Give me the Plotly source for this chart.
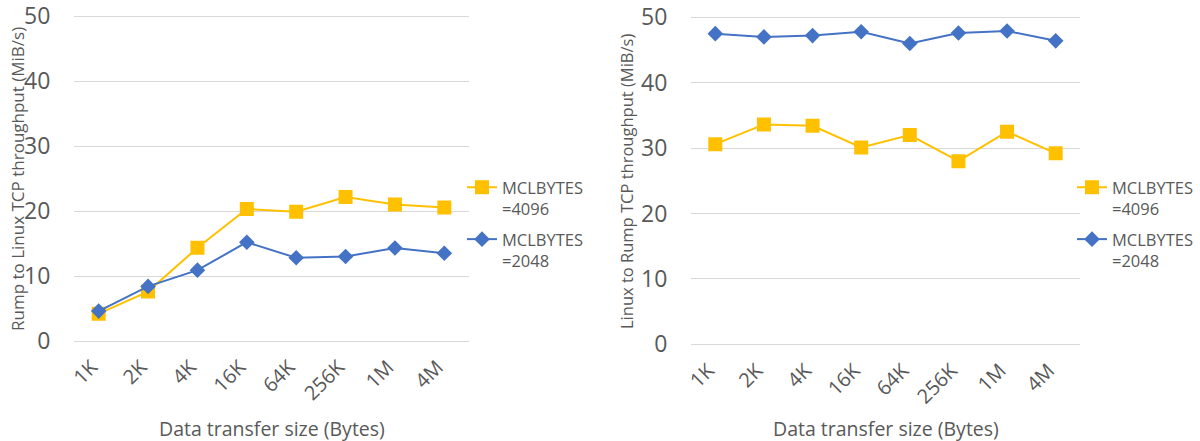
import plotly.graph_objects as go

sizes = ["1K", "2K", "4K", "16K", "64K", "256K", "1M", "4M"]
rump_to_linux_4096 = [4.2, 7.6, 14.35, 20.3, 19.9, 22.15, 21.0, 20.55]
rump_to_linux_2048 = [4.6, 8.4, 10.9, 15.2, 12.8, 13.0, 14.3, 13.5]
linux_to_rump_4096 = [30.6, 33.6, 33.4, 30.1, 32.0, 28.0, 32.5, 29.2]
linux_to_rump_2048 = [47.5, 47.0, 47.2, 47.8, 46.0, 47.6, 47.9, 46.4]
series_names = ["MCLBYTES<br>=4096", "MCLBYTES<br>=2048"]
y_ticks = [0, 10, 20, 30, 40, 50]

YELLOW = "#FFC000"
BLUE = "#4472C4"
GRAY = "#595959"
FONT = "Open Sans"

W, H = 1200, 441
PAD = 0.25  # small range padding so the 0 / 50 gridlines are kept


def fx(px):
    return px / W


def fy(py):
    return (H - py) / H


def ydomain(py0, py50):
    scale = (py0 - py50) / 50.0
    return [fy(py0 + PAD * scale), fy(py50 - PAD * scale)]


fig = go.Figure()


def add(y, name, color, symbol, size, xa, ya, legend, group):
    fig.add_trace(go.Scatter(
        x=sizes, y=y, name=name, mode="lines+markers",
        line=dict(color=color, width=2),
        marker=dict(symbol=symbol, size=size, color=color),
        xaxis=xa, yaxis=ya, legend=legend, legendgroup=group,
    ))


add(rump_to_linux_4096, series_names[0], YELLOW, "square", 14, "x", "y", "legend", "a1")
add(rump_to_linux_2048, series_names[1], BLUE, "diamond", 12, "x", "y", "legend", "a2")
add(linux_to_rump_4096, series_names[0], YELLOW, "square", 14, "x2", "y2", "legend2", "b1")
add(linux_to_rump_2048, series_names[1], BLUE, "diamond", 12, "x2", "y2", "legend2", "b2")

xcommon = dict(type="category", range=[-0.5, 7.5], showgrid=False, zeroline=False,
               showline=False, tickangle=-45, ticks="outside", ticklen=4,
               ticklabelshift=-7,
               tickcolor="rgba(0,0,0,0)", tickfont=dict(family=FONT, size=20, color=GRAY),
               automargin=False, fixedrange=True)
ycommon = dict(range=[-PAD, 50 + PAD], tickmode="array", tickvals=y_ticks,
               showgrid=True, gridcolor="#D9D9D9", gridwidth=1,
               zeroline=False, showline=False, ticks="outside", ticklen=18,
               ticklabeloverflow="allow",
               tickcolor="rgba(0,0,0,0)", tickfont=dict(family=FONT, size=23, color=GRAY),
               automargin=False, fixedrange=True)

legfont = dict(family=FONT, size=16.5, color=GRAY)

fig.update_layout(
    width=W, height=H,
    margin=dict(l=0, r=0, t=0, b=0),
    paper_bgcolor="white", plot_bgcolor="white",
    font=dict(family=FONT, color=GRAY),
    xaxis=dict(domain=[fx(74), fx(469)], anchor="y", **xcommon),
    yaxis=dict(domain=ydomain(341, 16), anchor="x", **ycommon),
    xaxis2=dict(domain=[fx(691), fx(1080)], anchor="y2", **xcommon),
    yaxis2=dict(domain=ydomain(344.3, 17.3), anchor="x2", **ycommon),
    legend=dict(x=fx(462), y=fy(170), xanchor="left", yanchor="top",
                font=legfont, valign="top", traceorder="grouped",
                bgcolor="rgba(0,0,0,0)", tracegroupgap=6),
    legend2=dict(x=fx(1072), y=fy(170), xanchor="left", yanchor="top",
                 font=legfont, valign="top", traceorder="grouped",
                 bgcolor="rgba(0,0,0,0)", tracegroupgap=6),
    annotations=[
        dict(text="Rump to Linux TCP throughput (MiB/s)", x=fx(17), y=fy(179),
             xref="paper", yref="paper", xanchor="center", yanchor="middle",
             showarrow=False, textangle=-90,
             font=dict(family=FONT, size=17, color=GRAY)),
        dict(text="Linux to Rump TCP throughput (MiB/s)", x=fx(626), y=fy(181),
             xref="paper", yref="paper", xanchor="center", yanchor="middle",
             showarrow=False, textangle=-90,
             font=dict(family=FONT, size=16.5, color=GRAY)),
        dict(text="Data transfer size (Bytes)", x=fx(271.5), y=fy(428),
             xref="paper", yref="paper", xanchor="center", yanchor="middle",
             showarrow=False, font=dict(family=FONT, size=19.5, color=GRAY)),
        dict(text="Data transfer size (Bytes)", x=fx(885.5), y=fy(428),
             xref="paper", yref="paper", xanchor="center", yanchor="middle",
             showarrow=False, font=dict(family=FONT, size=19.5, color=GRAY)),
    ],
)

fig.write_html("out.html", config={"displayModeBar": False},
               post_script="document.body.style.margin='0';")
